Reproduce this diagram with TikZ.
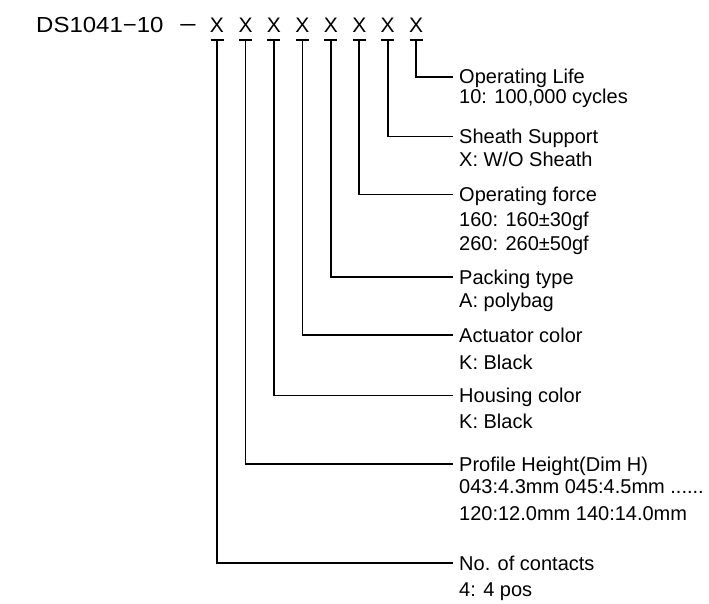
\documentclass[tikz,border=0pt]{standalone}
\usepackage{fontspec}
\usepackage{graphicx}
\setmainfont{Liberation Sans}
\newfontfamily\topfont[FakeStretch=1.1]{Liberation Sans}
\begin{document}
\begin{tikzpicture}[x=1pt,y=-1pt,
  wire/.style={line width=1.7pt,line cap=butt,line join=miter},
  title/.style={anchor=west,inner xsep=6pt,inner ysep=0pt,text height=14pt,text depth=0pt,font=\fontsize{20}{23}\selectfont},
  detail/.style={anchor=base west,inner sep=0pt,font=\fontsize{20}{23}\selectfont},
  code/.style={inner sep=0pt,anchor=base,font=\fontsize{21}{24}\selectfont}]
\useasboundingbox (0,0) rectangle (709,604);
% header
\node[inner sep=0pt,anchor=base west,font=\topfont\fontsize{21.8}{24}\selectfont] (pn) at (36,33) {DS1041{\char"2212}10};
\node[inner sep=0pt,anchor=base,font=\topfont\fontsize{21.8}{24}\selectfont] (dash) at (188,33) {\scalebox{1.3}[1]{\char"2212}};
\foreach \i/\x in {1/217,2/245.5,3/273.9,4/302.4,5/330.8,6/359.3,7/387.7,8/416.2}{
  \node[code] (x\i) at (\x,33) {X};
  \coordinate (b\i) at (\x,40);
  \draw[wire] ([xshift=-6.5pt]b\i) -- ([xshift=6.5pt]b\i);
}
% titles
\node[title] (t8) at (453,77) {Operating Life};
\node[title] (t7) at (453,136.5) {Sheath Support};
\node[title] (t6) at (453,194.5) {Operating force};
\node[title] (t5) at (453,277) {Packing type};
\node[title] (t4) at (453,335) {Actuator color};
\node[title] (t3) at (453,395.5) {Housing color};
\node[title] (t2) at (453,464) {Profile Height(Dim H)};
\node[title] (t1) at (453,563) {No. of contacts};
% details
\node[detail] (d8) at (459,104) {10: 100,000 cycles};
\node[detail] (d7) at (459,166.5) {X: W/O Sheath};
\node[detail] (d6a) at (459,226.5) {160: 160±30gf};
\node[detail] (d6b) at (459,250) {260: 260±50gf};
\node[detail] (d5) at (459,307) {A: polybag};
\node[detail] (d4) at (459,369) {K: Black};
\node[detail] (d3) at (459,428) {K: Black};
\node[detail] (d2a) at (459,493) {043:4.3mm 045:4.5mm ......};
\node[detail] (d2b) at (459,520) {120:12.0mm 140:14.0mm};
\node[detail] (d1) at (459,596) {4: 4 pos};
% connectors
\foreach \i in {1,...,8}{
  \draw[wire] (b\i) |- (t\i.west);
}
\end{tikzpicture}
\end{document}
